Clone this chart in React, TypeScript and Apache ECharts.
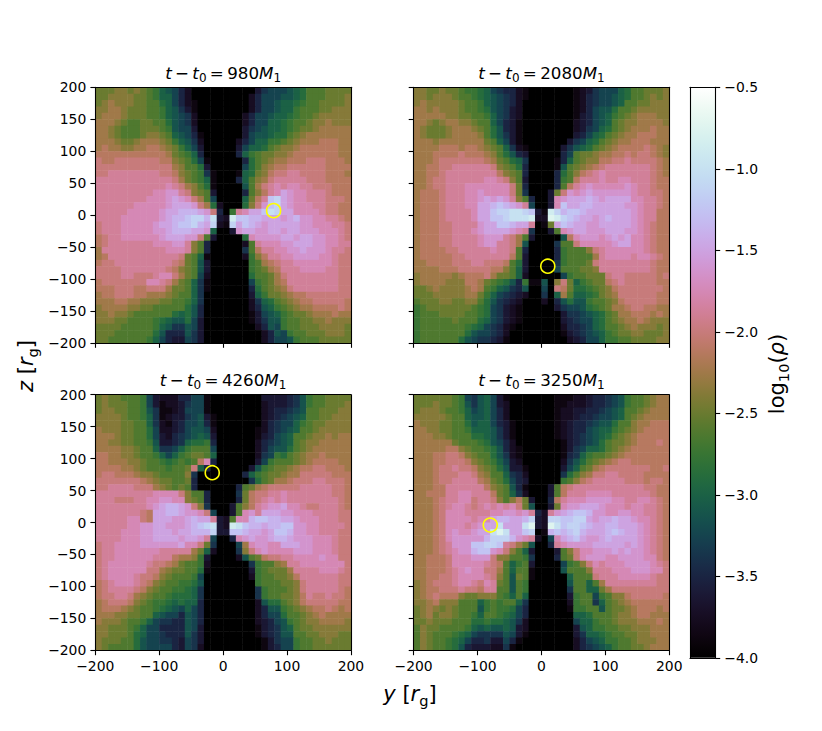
import React, { useRef, useEffect } from 'react'
import * as echarts from 'echarts'

// log10(rho): 40 cols (y = -200..200) x 40 rows (z = 200..-200), 10 rg per cell
// one base-36 digit per cell, value = digit / 8 - 4
const rhoT980 = [
  'cccddcdcba 8764200000 0000035666 789bbbcccc',
  'ccddddccba 8864200000 0000246667 789bbbcccd',
  'cdedddccbb 9864210000 0000246678 89abbccccd',
  'ddeedcccbb a875310000 0000246678 8abbbccddd',
  'deeedcccbb a876520000 0002466788 9abbcddddd',
  'eeedcbbccb b976520000 0002466889 abbcddeddd',
  'eedcbbbccc ba76630000 0003567889 abccdeeeee',
  'eedcbbbcdd cb87641000 0003677899 bcdeeeeeee',
  'eeedccdeee dca8752000 0024688aab cdeeefffee',
  'efeeddeeff edca863000 0036889bcd deffffffee',
  'ffffffffff fecba84000 0048abccdd efffffffee',
  'gffggggggg ffdcb96100 00049bcdee fffgggfffe',
  'gggggggggg ggedbb9300 00069bdeff ggggggffff',
  'gghhhhhhhh ggfdcba510 00189cdfgg hhggggfffe',
  'hhhhhhhhhh hhgecba810 0048bdeghh hhhgggffff',
  'hhhhhhhhhh hihgedb910 0007beghih iihhgggfff',
  'hhhhhhhhhi ijjhgdcb30 0004bdfhik jiihhhgfff',
  'hhhhhhhhii ijkjigeb60 0008cfhmnk jiihhhgggf',
  'hhhhhhiiii ijkkkjge92 0009dgjmnk jiiihhggff',
  'hhhhhiiiii jkklllkjg4 0ahikkmonk kiiiihggff',
  'hhhhiiiiii jkllmnnlo3 2pmmllkkkj kljjiihhgf',
  'ghhhiiiiij kklmmnlkn2 1nkmlkjkkk kkjjiiihhg',
  'ghhhiiiiij jklllkkj80 03jkkjjkkj kkjjjiiihg',
  'fghhiiiiii jkkkjjgb30 0009ijjjjk kjkkjjiihg',
  'fghhhhhhhi iijjhdb400 0002bhiiij jkkkjjiihh',
  'ehhhhhhhhh hiiihdb400 0005bfhhii jjkjjjihhg',
  'efhhhhhhhh hhhgcb8100 0002adfhhi ijjjjiihgg',
  'fgghhhhhhh hhgfcb7300 0000abefgh hiiiiiihgg',
  'gggghhhhhh hgfdcb7300 0000abcefh hhiiiihhgg',
  'gggghhgggh iigecb6200 00009bbceg hhhhhhhhgg',
  'fgggggggii hgecb85100 00006abcef hhhhhhhhgg',
  'fffgggffgg geccb85100 000049bcde ghhhhhhhgg',
  'effgggffee edcbb85000 000038accd effggggggg',
  'eeeffeeddd ccbba85000 00002589bc deffgggggf',
  'deeeeddccb bbbb974000 00002478ab cdeeffffgf',
  'ddeddcbbbb bb98974000 000013678a bccdeeefee',
  'dddccbbbba 9877963000 000013577a bbccddeddd',
  'ccccbbbbba 8755763000 000002476a bbcccddddc',
  'cccbbbbbb9 7444753000 0000002476 abbcccdddc',
  'ccbbbbbba8 6433653000 0000002466 7abbbccccc',
]

const rhoT2080 = [
  'ddccdccbaa 9865442100 0000012356 6689bbcccd',
  'ddcdddcbba 9876542100 0000012456 6789bbcdcd',
  'dedddddcbb a876542000 0000012456 678bbccddd',
  'eededddcbb a976532000 0000012467 79bbcddddd',
  'eeeeeddccb ba86532000 0000013467 8abcdeeedd',
  'eedcdeeddc bb86431000 0000023467 8bcddeeeed',
  'edcccdeeed cb97431000 0000023568 9bcdeeefee',
  'edcccdeeee db97531000 0000034689 bcdeefffee',
  'eeedeeeeee ecb8631000 000035689b cdeefffeee',
  'eeeefffeff edcb852100 00035789bc deffffgfed',
  'eeeffffgff fedb974300 00046bccde effgfggfed',
  'eeefgggggg gfecb98500 00148bcddf fgghggggfe',
  'eeffgghhhh hhgdcb9400 0017bcdefg hhhhhhhgfe',
  'eeffghhhhh hhhfdcb400 0049bdfghi hhhhhhhgfe',
  'eefgghhhhh hiihgdb300 004abfhhhi hhiihhhgff',
  'eefgghhhii iiiiigc400 004bfhijii iiijihhgff',
  'efffghhhii jiiiigc500 03cgjijkjj jjjjihhggf',
  'efffghhhii jkjkjhdb40 03ijkkklkj kkkkiihhgf',
  'efffghhhii kklmlkjh60 03imkkllkk kkkjjihhgf',
  'efffghhhhi kkmnnoonm3 1pnlmmlkkk kkkkjihhff',
  'efffghhhhi kkmmnooop2 2qpnmlkkjk lkkkjihhff',
  'efffgghhhh jkkmmlkkh0 1ckmlkkjjk kkkkjihgff',
  'efffgghhhi jkkkkjih50 03bijkkjjj kkkjjihgff',
  'efffgghhhh ijjjhgeb30 0007fijjji jkjkiihgff',
  'efffgghhhh ijjhhge700 005bbgiiii ijkkiihgff',
  'effffgghhh hhihhgb400 004abbbdgh iiiiiihgff',
  'efffffgghh hhhhhfb300 004abbbbeh iiiihiihgf',
  'eeffffgggh hgggfb9300 005abbbcgh hhhhhhhgff',
  'eeeefffggg ggffdb8300 006bbbccdh hhhhhhhgff',
  'deeeeedeff fgeccb8200 0006abbccc ghhgggggfg',
  'deeeedddff ecba974a11 70dgc8abcc fghgggggff',
  'ccdeddddef eba8754700 60gfc99abc dfgggggggf',
  'cccdddddee ca86543200 508eb889ac deggggggff',
  'bcccddccdd b975432000 2047977abb cdfgggggff',
  'abcccccccb a965321000 00356679ab ceefggffee',
  'abbbccccbb a965321000 0003556789 bceefffefe',
  'abbbbbcbbb 9865321000 0003456689 bcdeefeddd',
  'abbbbbbba9 8654210000 0002445689 bbcdedddcd',
  'abbbbbbb97 6654200000 0001345678 abccddcccd',
  'abbbbbb976 5543100000 0000234668 aabbccccdd',
]

const rhoT4260 = [
  'cdccbbba63 2224466100 0000003333 457abbcccc',
  'cdcccbba63 1223566100 0000002333 457abbcccd',
  'cddccbba75 1123666100 0000002344 567bbcccdd',
  'ddddcbba85 1233567310 0000002345 678bbccddd',
  'ddddccbb85 2134667410 0000002456 68abccdddd',
  'edddccbb96 2234677620 0000012456 78bbcddddd',
  'eeedccbb96 3245678730 0000013467 8bbcddedee',
  'eeddccbba7 3345899a40 0000024567 8bcddeeeee',
  'eeeeddcbb8 5568abbb60 0000024677 9bcdeeeeee',
  'ffeeddcbba 868abccb80 00000256a9 bcdeefeeee',
  'ffeeeddcbb a9ababfi40 0000036abb bcdeffffee',
  'ffffeedcbb babbcg8400 000037abcc deffggfffe',
  'fggfffeddc bbbbd50000 00048abccd eegggggfff',
  'gggggggfed ccbbc40000 000059bcee fggghhgggf',
  'gghhhhggge dcbcb40000 004bcefggg gghhhhhggf',
  'hhhhhhhhhi iiigdbb400 005cfgghhi hhhhhhhggf',
  'hhhggghhii jjiidcb400 004cfghihi hhhhhhhhgf',
  'hhhhhhhhij kllkjgd500 03bdfhijjk iihgghhhgf',
  'hhhhhhhgfk kllkjjig60 03bijhkkkj jiiihhhhgg',
  'hhhhhiigfk kkjjklkkh3 2biilmmllk kjiiihhhgg',
  'hhhhhiijjk kjjjklmno3 2pomllkllm mjjiihhhhg',
  'hhhhiiijjk kkjkkllln3 3mmlkkjkmm ljjiihhhgg',
  'hhhhiiijjk kkkjkkjh60 04ijkjjkll kjjjiiihgg',
  'ghhiiiijjj jjjkiigc50 006eijjiik kkjjiiihgg',
  'ghhiiiiiii hhhhhec820 005dgijiii ijjjiiihgg',
  'ghhiiiiiih hhfeeda300 0027bcfggh hiiiijiigg',
  'ghiiiiiihg gfecbba200 00005abbde hhiiiiiiig',
  'ghiiiiiigg edccbb9100 00003abccc ehhhhiiihg',
  'ghiiiihggf dcbbba6000 00002abbcc dfhhhhhhgg',
  'fghiiihgfd cbbaa97000 00000abbbc cdghhhhhgg',
  'fghhhhgfdc bbaa985000 000005abbb cdghhhhhgf',
  'fgghhgedcb ba99985000 000005abbc cdfhgghggf',
  'efgggfdcba a989884000 000002799b cdfgggggff',
  'efffedcbba 9876864000 000002477a bcdeffgfef',
  'eeeddccbb8 7664764000 0000024669 bbcdefeeee',
  'edddcbba86 5544764000 0000023467 abcddeeeed',
  'ddcccba866 4444763000 0000013457 8bccdddddd',
  'ddcccb9866 5444753000 0000013457 7bbccdddcc',
  'dcccbb9766 5543653000 0000001356 6abbccdccc',
  'dcbbbb9766 6643652000 0000001346 6abbcccccc',
]

const rhoT3250 = [
  'ccccccba65 7863100000 0011122344 567abbcdee',
  'cccdccba75 7863200000 0011222344 567abbcdee',
  'cdddcbba86 7864200000 0012233445 678bbcdeee',
  'dddddcbb87 7864200000 0012234456 678bcdeeee',
  'edddccbb97 8864310000 0012344567 79bbdeefff',
  'eeddccbba8 8875310000 0012344678 8abcdeffff',
  'eeeddcbbb9 9875310000 0012345678 9bcdefffff',
  'eeeeeecbbb a976420000 0001345679 bccdefffgf',
  'eeeeeffdcb ba97421000 0001356889 bcdeffffff',
  'eeeffggfdc bb97521000 0001458abb cdefffffff',
  'eeeffgggfd cba8632000 0002579bcd efggffffff',
  'eeefgghggf dcb9733100 000368bcef gggggggffg',
  'eeefggghhg edbb854200 00059bdegg hhggggffff',
  'eeefgghhhh fecb964300 000abdfghh hhhgggfggf',
  'eeeffhhhhh hfdcb74100 03bfghhhhh hhhhhhggff',
  'eefffhhiih hhfcb85200 03bfhhhiii ihhhhhhgff',
  'eeefghhiig hhgdbdfc30 04fhiiijjj jiihhiihgf',
  'eeefghiihg hihihigc70 03cijjkkkj iiihiihhgf',
  'eeefgiiihh hhiijjijh4 2hjklmmljj iijjiihhgf',
  'eeefgiiiih iikllkkln3 2nnmmnnkjk klkkjiihgf',
  'eeefgiiihi jkkokkkoq3 2qomnnmlkk llkkkjihgf',
  'eeefgijiij kkoqokkmn0 1lmlmnlkkk lmlkkjihgf',
  'eeefgijjjj jlnnnljih2 06iklmkjjk lkkkkjihgf',
  'eeefghjjjm mnnmhgec70 04hijjjjkk kkkjkjihgf',
  'eeefghijjl mmjigdb830 003bdgiijj jkjkjjihgf',
  'eefffgiiij jjgddbba50 004bcgijjj iijjjjiigf',
  'eefffgiiii ihgfb8ab30 0006abdgih iiijjjjihg',
  'eefffghiji iggeb8bb10 0007bbbdhh hiiijjjiig',
  'eeffgghiii ihgdb7cb10 00008bbbgh hhiiiiihgg',
  'defggghiih gihcb7ba00 00007bb8be hhhhhhhhgg',
  'deffggghgg fhhbb7ba00 00005bb88c eggggggggg',
  'defgfffdcc dddba8b800 00003abb6a bddfgggggf',
  'ddefdddbbb 8ababb8500 00002abb58 bcdeffffff',
  'cdedcdcbbb 7abaa96400 00001aabb7 bccdefffef',
  'cdecddcbba 8bba986400 00000889bb bcddeffeee',
  'ccdcccbbb9 9a99875200 00000688ab bcdddeeefe',
  'bdccbbbba8 7877873200 00000378aa bbccdddeee',
  'bdcbbba986 5555763100 0000035889 abbccddeee',
  'bdcbba9864 4533641000 0000024678 aabbcdddee',
  'bdcbba9743 3322510000 0000024567 8abbccdeee',
]

const panels = [rhoT980, rhoT2080, rhoT4260, rhoT3250]
const times = ['980', '2080', '4260', '3250']
const secondary = [[79, 7], [10, -80], [-17, 78], [-80, -4]]

const panelLeft = [95.3, 413.6]
const panelTop = [87.3, 394.7]
const panelSize = 255.6
const cell = 10
const vMin = -4
const vMax = -0.5

// matplotlib cubehelix
function cubehelix(t: number) {
  const a = (t * (1 - t)) / 2
  const phi = 2 * Math.PI * (0.5 / 3 - 1.5 * t)
  const c = Math.cos(phi)
  const s = Math.sin(phi)
  const ch = (v: number) => Math.round(Math.min(1, Math.max(0, v)) * 255)
  return `rgb(${ch(t + a * (-0.14861 * c + 1.78277 * s))},${ch(t + a * (-0.29227 * c - 0.90649 * s))},${ch(t + a * 1.97294 * c)})`
}

function rhoColor(v: number) {
  return cubehelix((v - vMin) / (vMax - vMin))
}

function toCells(rows: string[]) {
  const out: number[][] = []
  rows.forEach((row, r) => {
    row.replace(/ /g, '').split('').forEach((ch, c) => {
      out.push([-200 + cell * (c + 0.5), 200 - cell * (r + 0.5), parseInt(ch, 36) / 8 - 4])
    })
  })
  return out
}

function renderCell(params: any, api: any) {
  const x = api.value(0)
  const z = api.value(1)
  const a = api.coord([x - cell / 2, z + cell / 2])
  const b = api.coord([x + cell / 2, z - cell / 2])
  return {
    type: 'rect',
    shape: { x: a[0], y: a[1], width: b[0] - a[0] + 0.5, height: b[1] - a[1] + 0.5 },
    style: { fill: rhoColor(api.value(2)) },
  }
}

const fmt = (v: number) => String(v).replace('-', '\u2212')
const line = { show: true, onZero: false, lineStyle: { color: '#000', width: 1.1 } }
const tick = { show: true, length: 4.9, lineStyle: { color: '#000', width: 1.1 } }
const font = 'DejaVu Sans'

function mathRich(size: number, sub: number) {
  return {
    n: { fontFamily: font, fontSize: size, color: '#000', lineHeight: size + 6 },
    i: { fontFamily: font, fontSize: size, fontStyle: 'italic', color: '#000', lineHeight: size + 6 },
    s: { fontFamily: font, fontSize: sub, color: '#000', lineHeight: size + 6, verticalAlign: 'bottom' },
    p: { fontFamily: font, fontSize: size * 0.63, color: '#000', lineHeight: size + 6 },
  }
}

function App() {
  const chartRef = useRef(null)

  useEffect(() => {
    const chart = echarts.init(chartRef.current, null, { renderer: 'svg' })

    const grid: any[] = []
    const xAxis: any[] = []
    const yAxis: any[] = []
    const series: any[] = []
    const title: any[] = []

    panels.forEach((rows, p) => {
      const col = p % 2
      const row = Math.floor(p / 2)
      grid.push({ left: panelLeft[col], top: panelTop[row], width: panelSize, height: panelSize })
      const range = { type: 'value', min: -200, max: 200, interval: 100, gridIndex: p, z: 5, splitLine: { show: false } }
      xAxis.push({
        ...range,
        position: 'bottom',
        axisLine: line,
        axisTick: tick,
        axisLabel: { show: row === 1, margin: 9, color: '#000', fontFamily: font, fontSize: 13.9, formatter: fmt },
      })
      xAxis.push({ ...range, position: 'top', axisLine: line, axisTick: { show: false }, axisLabel: { show: false } })
      yAxis.push({
        ...range,
        interval: 50,
        position: 'left',
        axisLine: line,
        axisTick: tick,
        axisLabel: { show: col === 0, margin: 9, color: '#000', fontFamily: font, fontSize: 13.9, formatter: fmt },
      })
      yAxis.push({ ...range, interval: 50, position: 'right', axisLine: line, axisTick: { show: false }, axisLabel: { show: false } })
      series.push({
        type: 'custom',
        xAxisIndex: p * 2,
        yAxisIndex: p * 2,
        clip: true,
        renderItem: renderCell,
        data: toCells(rows),
      })
      series.push({
        type: 'scatter',
        xAxisIndex: p * 2,
        yAxisIndex: p * 2,
        z: 4,
        symbol: 'circle',
        symbolSize: 14,
        itemStyle: { color: 'rgba(0,0,0,0)', borderColor: '#ffff00', borderWidth: 1.6, opacity: 1 },
        data: [secondary[p]],
      })
      title.push({
        text: `{i|t}{p| }{n|\u2212}{p| }{i|t}{s|0}{p| }{n|=}{p| }{n|${times[p]}}{i|M}{s|1}`,
        left: panelLeft[col] + panelSize / 2,
        top: panelTop[row] - 26,
        textAlign: 'center',
        padding: 0,
        textStyle: { fontFamily: font, fontSize: 16.7, fontWeight: 'normal', rich: mathRich(16.7, 12) },
      })
    })

    // colorbar
    const stops: any[] = []
    for (let i = 0; i <= 50; i++) {
      stops.push({ offset: i / 50, color: cubehelix(1 - i / 50) })
    }
    grid.push({ left: 690, top: 87.3, width: 25.3, height: 570.5 })
    xAxis.push({ type: 'value', min: 0, max: 1, gridIndex: 4, z: 5, position: 'bottom', splitLine: { show: false }, axisLine: line, axisTick: { show: false }, axisLabel: { show: false } })
    xAxis.push({ type: 'value', min: 0, max: 1, gridIndex: 4, z: 5, position: 'top', splitLine: { show: false }, axisLine: line, axisTick: { show: false }, axisLabel: { show: false } })
    yAxis.push({
      type: 'value',
      min: vMin,
      max: vMax,
      interval: 0.5,
      gridIndex: 4,
      z: 5,
      position: 'right',
      splitLine: { show: false },
      axisLine: line,
      axisTick: tick,
      axisLabel: { margin: 9, color: '#000', fontFamily: font, fontSize: 13.9, formatter: (v: number) => v.toFixed(1).replace('-', '\u2212') },
    })
    yAxis.push({ type: 'value', min: vMin, max: vMax, gridIndex: 4, z: 5, position: 'left', splitLine: { show: false }, axisLine: line, axisTick: { show: false }, axisLabel: { show: false } })
    series.push({
      type: 'custom',
      xAxisIndex: 8,
      yAxisIndex: 8,
      renderItem: (params: any, api: any) => {
        const a = api.coord([0, vMax])
        const b = api.coord([1, vMin])
        return {
          type: 'rect',
          shape: { x: a[0], y: a[1], width: b[0] - a[0], height: b[1] - a[1] },
          style: { fill: new echarts.graphic.LinearGradient(0, 0, 0, 1, stops) },
        }
      },
      data: [[0, vMin]],
    })

    const labelRich = mathRich(21, 14.6)
    const option = {
      animation: false,
      backgroundColor: '#fff',
      title,
      grid,
      xAxis,
      yAxis,
      series,
      graphic: [
        { type: 'text', x: 410, y: 694, style: { text: '{i|y}{n| }{n|[}{i|r}{s|g}{n|]}', rich: labelRich, align: 'center', verticalAlign: 'middle' } },
        { type: 'text', x: 26, y: 366, rotation: Math.PI / 2, style: { text: '{i|z}{n| }{n|[}{i|r}{s|g}{n|]}', rich: labelRich, align: 'center', verticalAlign: 'middle' } },
        { type: 'text', x: 777, y: 374, rotation: Math.PI / 2, style: { text: '{n|log}{s|10}{n|(}{i|\u03c1}{n|)}', rich: labelRich, align: 'center', verticalAlign: 'middle' } },
      ],
    }

    chart.setOption(option as any)

    return () => {
      chart.dispose()
    }
  }, [])

  return <div ref={chartRef} style={{ position: 'absolute', left: 0, top: 0, width: 822, height: 731 }}></div>
}

export default App
